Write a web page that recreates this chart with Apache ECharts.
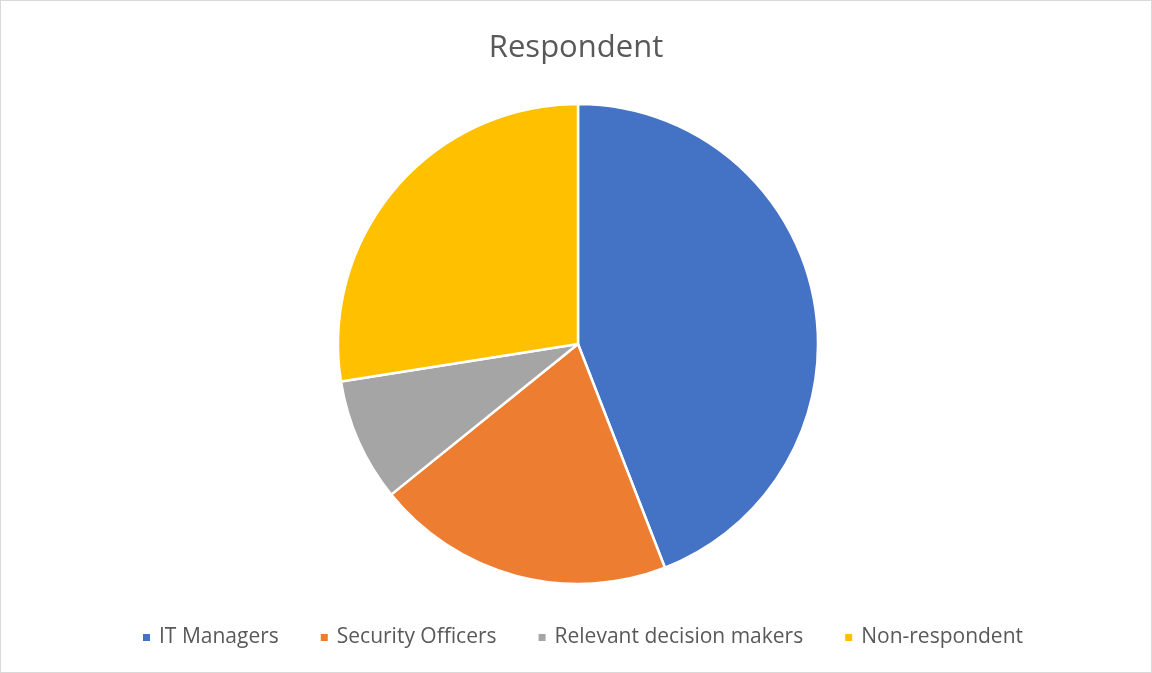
<!DOCTYPE html>
<html>
<head>
<meta charset="utf-8">
<script src="https://cdn.jsdelivr.net/npm/echarts@6/dist/echarts.min.js"></script>
<style>
html,body{margin:0;padding:0;background:#fff;}
#c{width:1152px;height:673px;box-sizing:border-box;border:1px solid #d9d9d9;}
</style>
</head>
<body>
<div id="c"></div>
<script>
const categories = ['IT Managers', 'Security Officers', 'Relevant decision makers', 'Non-respondent'];
const values = [44.1, 20.1, 8.3, 27.5];
const colors = ['#4472C4', '#ED7D31', '#A5A5A5', '#FFC000'];

const chart = echarts.init(document.getElementById('c'), null, {renderer: 'canvas'});
chart.setOption({
  animation: false,
  color: colors,
  title: {
    text: 'Respondent',
    left: 'center',
    top: 27,
    textStyle: {fontFamily: 'Open Sans', fontSize: 31, fontWeight: 'normal', color: '#595959'}
  },
  legend: {
    bottom: 19,
    left: 135,
    icon: 'rect',
    itemWidth: 9,
    itemHeight: 9,
    itemGap: 40,
    data: categories,
    textStyle: {fontFamily: 'Open Sans', fontSize: 21, color: '#595959', padding: [0, 0, 0, 3]}
  },
  series: [{
    type: 'pie',
    center: [577, 343],
    radius: [0, 240],
    startAngle: 90,
    clockwise: true,
    label: {show: false},
    labelLine: {show: false},
    itemStyle: {borderColor: '#fff', borderWidth: 2.5},
    emphasis: {disabled: true},
    data: categories.map((n, i) => ({name: n, value: values[i]}))
  }]
});
</script>
</body>
</html>
